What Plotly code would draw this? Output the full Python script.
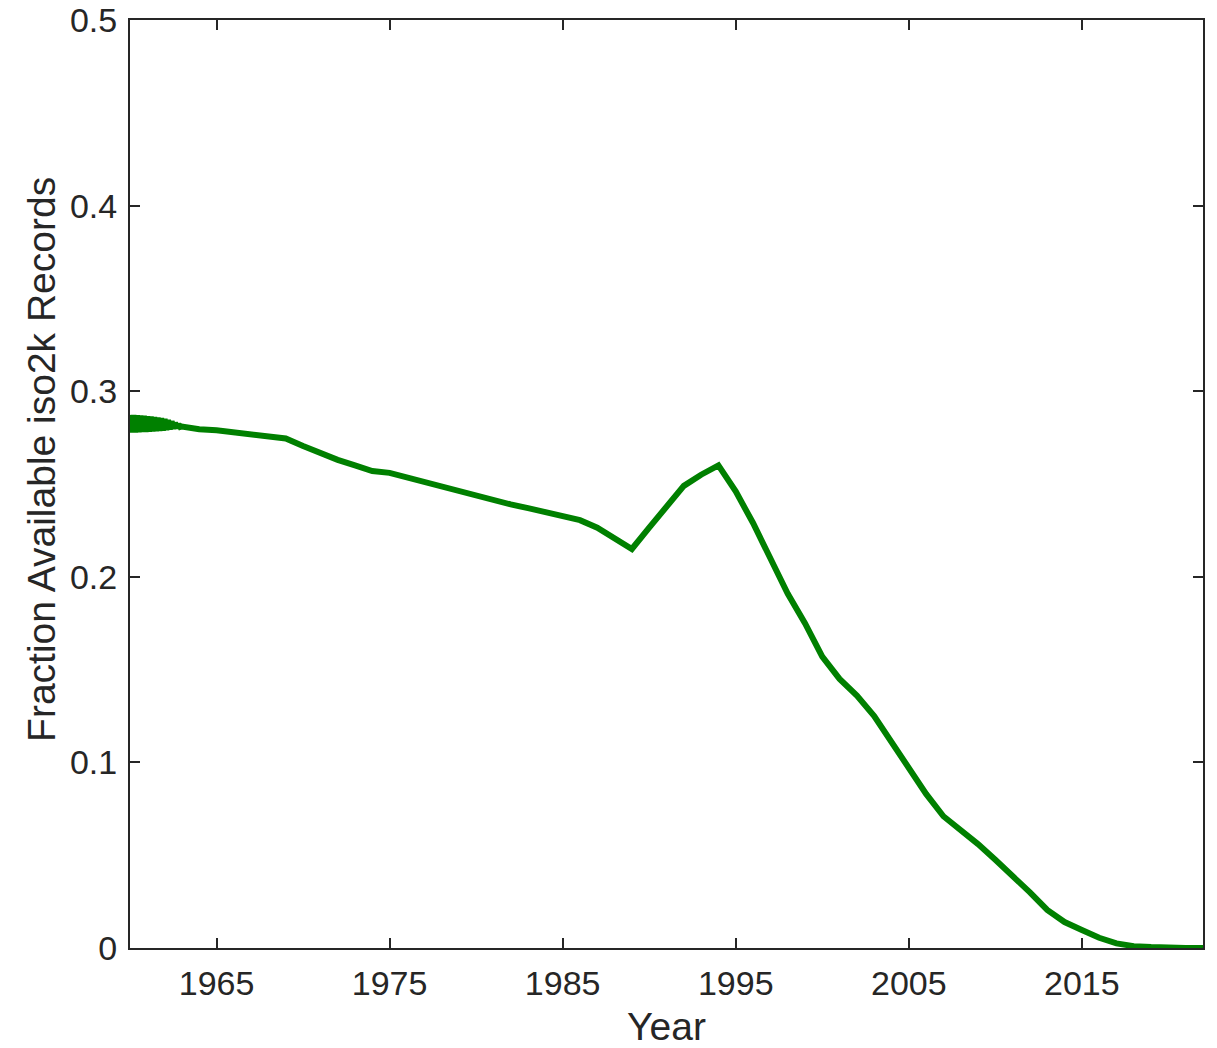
import plotly.graph_objects as go

# Early record years: availability flickers between adjacent months
early_years = [1960.0, 1960.1, 1960.2, 1960.3, 1960.4, 1960.5, 1960.6, 1960.7, 1960.8, 1960.9,
               1961.0, 1961.1, 1961.2, 1961.3, 1961.4, 1961.5, 1961.6, 1961.7, 1961.8, 1961.9,
               1962.0, 1962.1, 1962.2, 1962.3, 1962.4, 1962.5, 1962.6, 1962.7, 1962.8, 1962.9]
early_fraction = [0.2872, 0.2778, 0.2872, 0.2778, 0.2870, 0.2779, 0.2869, 0.2780, 0.2867, 0.2781,
                  0.2865, 0.2782, 0.2863, 0.2783, 0.2860, 0.2785, 0.2858, 0.2786, 0.2855, 0.2788,
                  0.2850, 0.2791, 0.2845, 0.2794, 0.2838, 0.2798, 0.2830, 0.2802, 0.2822, 0.2807]

years = [1963, 1964, 1965, 1966, 1967, 1968, 1969, 1970, 1971, 1972,
         1973, 1974, 1975, 1976, 1977, 1978, 1979, 1980, 1981, 1982,
         1983, 1984, 1985, 1986, 1987, 1988, 1989, 1990, 1991, 1992,
         1993, 1994, 1995, 1996, 1997, 1998, 1999, 2000, 2001, 2002,
         2003, 2004, 2005, 2006, 2007, 2008, 2009, 2010, 2011, 2012,
         2013, 2014, 2015, 2016, 2017, 2018, 2019, 2020, 2021, 2022]
fraction = [0.2810, 0.2795, 0.2790, 0.2780, 0.2765, 0.2760, 0.2745, 0.2705, 0.2665, 0.2630,
            0.2600, 0.2570, 0.2560, 0.2535, 0.2510, 0.2485, 0.2460, 0.2440, 0.2415, 0.2390,
            0.2370, 0.2350, 0.2330, 0.2305, 0.2265, 0.2210, 0.2150, 0.2265, 0.2380, 0.2490,
            0.2550, 0.2600, 0.2460, 0.2290, 0.2100, 0.1910, 0.1750, 0.1570, 0.1450, 0.1360,
            0.1250, 0.1110, 0.0960, 0.0830, 0.0710, 0.0640, 0.0560, 0.0475, 0.0390, 0.0300,
            0.0205, 0.0140, 0.0097, 0.0055, 0.0025, 0.0010, 0.0005, 0.0, 0.0, 0.0]

x_ticks = [1965, 1975, 1985, 1995, 2005, 2015]
y_ticks = [0, 0.1, 0.2, 0.3, 0.4, 0.5]
y_tick_labels = ["0", "0.1", "0.2", "0.3", "0.4", "0.5"]

fig = go.Figure()
fig.add_trace(go.Scatter(
    x=early_years + years,
    y=early_fraction + fraction,
    mode="lines",
    line=dict(color="rgb(0,128,0)", width=6),
    showlegend=False,
))

font_family = "Liberation Sans, Arial, sans-serif"
text_color = "#262626"
axis_common = dict(
    showline=True, linecolor=text_color, linewidth=2, mirror="ticks",
    ticks="inside", ticklen=10, tickwidth=2, tickcolor=text_color,
    showgrid=False, zeroline=False, automargin=False,
    tickfont=dict(family=font_family, size=34, color=text_color),
    title_font=dict(family=font_family, size=39, color=text_color),
)

fig.update_layout(
    width=1217, height=1048,
    margin=dict(l=130, r=14, t=20, b=100),
    paper_bgcolor="white", plot_bgcolor="white",
    xaxis=dict(range=[1960, 2022], tickvals=x_ticks, ticklabelstandoff=4,
               title=dict(text="Year", standoff=16), **axis_common),
    yaxis=dict(range=[0, 0.5], tickvals=y_ticks, ticktext=y_tick_labels, ticklabelstandoff=4,
               **axis_common),
)

# Vertical y-axis label, set slightly above the axis midpoint
fig.add_annotation(
    text="Fraction Available iso2k Records",
    xref="paper", yref="paper", x=-0.082, y=0.526,
    xanchor="center", yanchor="middle", textangle=-90, showarrow=False,
    font=dict(family=font_family, size=39, color=text_color),
)

fig.write_html("out.html")
